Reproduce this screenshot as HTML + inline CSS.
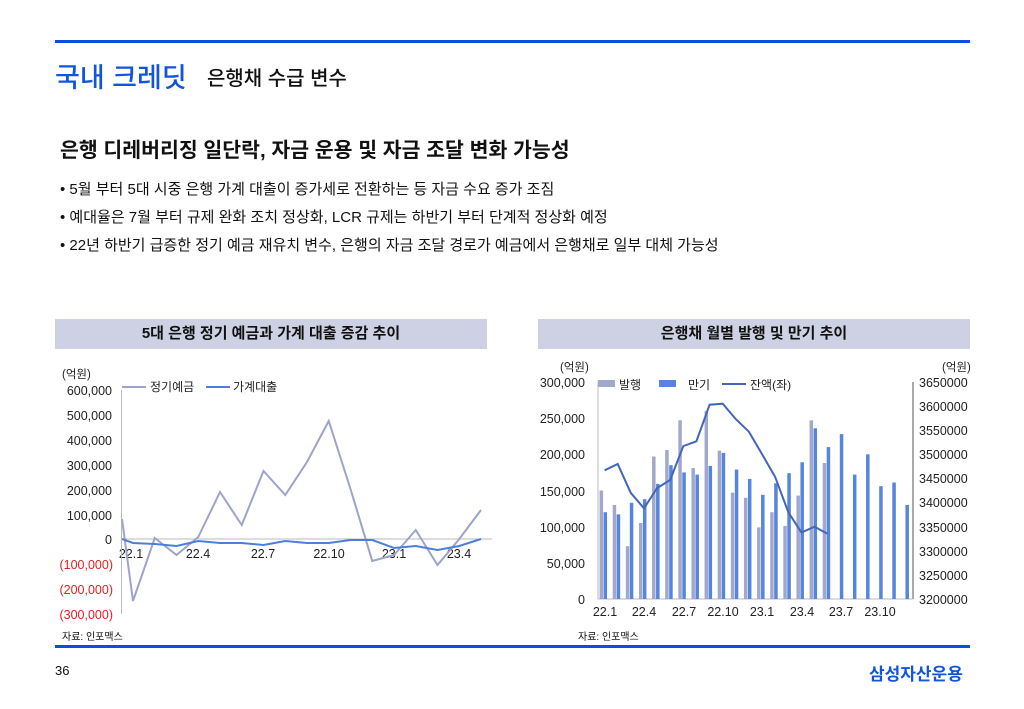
<!DOCTYPE html>
<html><head><meta charset="utf-8">
<style>
body{margin:0;width:1024px;height:709px;background:#fff;font-family:"Liberation Sans","Noto Sans CJK KR",sans-serif;position:relative;overflow:hidden}
.a{position:absolute;white-space:nowrap}
</style></head><body>
<div class="a" style="left:55px;top:40px;width:915px;height:3px;background:#0a4fe0"></div>
<div class="a" style="left:55px;top:56px;font-size:27px;color:#1155dd;font-weight:500">국내 크레딧</div>
<div class="a" style="left:207px;top:62px;font-size:20px;color:#111;font-weight:500">은행채 수급 변수</div>
<div class="a" style="left:60px;top:133px;font-size:20.5px;color:#111;font-weight:bold">은행 디레버리징 일단락, 자금 운용 및 자금 조달 변화 가능성</div>
<div class="a" style="left:60px;top:176px;font-size:15px;color:#111;line-height:28px">• 5월 부터 5대 시중 은행 가계 대출이 증가세로 전환하는 등 자금 수요 증가 조짐<br>• 예대율은 7월 부터 규제 완화 조치 정상화, LCR 규제는 하반기 부터 단계적 정상화 예정<br>• 22년 하반기 급증한 정기 예금 재유치 변수, 은행의 자금 조달 경로가 예금에서 은행채로 일부 대체 가능성</div>
<div class="a" style="left:55px;top:319px;width:432px;height:30px;background:#cdd1e3;text-align:center;line-height:30px;font-size:15px;font-weight:bold;color:#111">5대 은행 정기 예금과 가계 대출 증감 추이</div>
<div class="a" style="left:538px;top:319px;width:432px;height:30px;background:#cdd1e3;text-align:center;line-height:30px;font-size:15px;font-weight:bold;color:#111">은행채 월별 발행 및 만기 추이</div>
<div class="a" style="left:55px;top:645px;width:915px;height:3px;background:#0a4fe0"></div>
<div class="a" style="left:55px;top:663px;font-size:13px;color:#111">36</div>
<div class="a" style="left:869px;top:660px;font-size:17px;color:#1155dd;font-weight:bold">삼성자산운용</div>
<div class="a" style="left:62px;top:628px;font-size:10px;color:#111">자료: 인포맥스</div>
<div class="a" style="left:578px;top:628px;font-size:10px;color:#111">자료: 인포맥스</div>

<svg class="a" style="left:0;top:0" width="1024" height="709" font-family="Liberation Sans, Noto Sans CJK KR, sans-serif" font-size="12.5">
<g fill="#222">
<text x="62" y="378" font-size="11.5">(억원)</text>
<g text-anchor="end">
<text x="112" y="395">600,000</text><text x="112" y="420">500,000</text><text x="112" y="445">400,000</text><text x="112" y="470">300,000</text><text x="112" y="495">200,000</text><text x="112" y="520">100,000</text><text x="112" y="544">0</text>
<text x="113" y="569" fill="#e02020">(100,000)</text><text x="113" y="594" fill="#e02020">(200,000)</text><text x="113" y="619" fill="#e02020">(300,000)</text>
</g>
<g text-anchor="middle"><text x="131" y="558">22.1</text><text x="198" y="558">22.4</text><text x="263" y="558">22.7</text><text x="329" y="558">22.10</text><text x="394" y="558">23.1</text><text x="459" y="558">23.4</text></g>
</g>
<line x1="121.5" y1="390" x2="121.5" y2="614" stroke="#bbb"/>
<line x1="122" y1="539" x2="492" y2="539" stroke="#bbb"/>
<line x1="122" y1="387" x2="146" y2="387" stroke="#9ea3cc" stroke-width="2"/><text x="150" y="391" fill="#222" font-size="12">정기예금</text>
<line x1="206" y1="387" x2="230" y2="387" stroke="#4d7fd9" stroke-width="2"/><text x="233" y="391" fill="#222" font-size="12">가계대출</text>
<polyline fill="none" stroke="#9ea3cc" stroke-width="2" points="122,519 133,601 154.75,538 176.5,555 198.25,537 220,492 241.75,525 263.5,471 285.25,495 307,462 328.75,421 350.5,489 372.25,561 394,555 415.75,530 437.5,565 459.25,539 481,510"/>
<polyline fill="none" stroke="#4d7fd9" stroke-width="2" points="122,539 133,543 154.75,544 176.5,546 198.25,541 220,543 241.75,543 263.5,545 285.25,541 307,543 328.75,543 350.5,540 372.25,540 394,548 415.75,546 437.5,550 459.25,546 481,539"/>

<g fill="#222">
<text x="560" y="371" font-size="11.5">(억원)</text><text x="942" y="371" font-size="11.5">(억원)</text>
<g text-anchor="end">
<text x="585" y="387">300,000</text><text x="585" y="423">250,000</text><text x="585" y="459">200,000</text><text x="585" y="496">150,000</text><text x="585" y="532">100,000</text><text x="585" y="568">50,000</text><text x="585" y="604">0</text>
</g>
<g>
<text x="919" y="387">3650000</text><text x="919" y="411">3600000</text><text x="919" y="435">3550000</text><text x="919" y="459">3500000</text><text x="919" y="483">3450000</text><text x="919" y="507">3400000</text><text x="919" y="532">3350000</text><text x="919" y="556">3300000</text><text x="919" y="580">3250000</text><text x="919" y="604">3200000</text>
</g>
<g text-anchor="middle"><text x="605" y="616">22.1</text><text x="644" y="616">22.4</text><text x="684" y="616">22.7</text><text x="723" y="616">22.10</text><text x="762" y="616">23.1</text><text x="802" y="616">23.4</text><text x="841" y="616">23.7</text><text x="880" y="616">23.10</text></g>
</g>
<line x1="598" y1="382" x2="598" y2="599" stroke="#bbb"/>
<line x1="913" y1="382" x2="913" y2="599" stroke="#555"/>
<line x1="598" y1="599" x2="913" y2="599" stroke="#bbb"/>
<g id="bars"></g>
<polyline fill="none" stroke="#4466b8" stroke-width="2" points="604.6,470.3 617.7,464 630.8,492.9 644,508.3 657.1,488.1 670.2,479.9 683.3,446.1 696.4,441.3 709.6,404.7 722.7,403.7 735.8,419.1 748.9,431.7 762.1,454.3 775.2,477 788.3,512.2 801.4,532.5 814.5,526.7 827.7,533.9"/>
<rect x="598" y="380" width="17" height="7" fill="#a2a8cc"/><text x="619" y="389" fill="#222" font-size="12">발행</text>
<rect x="659" y="380" width="17" height="7" fill="#5585dd"/><text x="688" y="389" fill="#222" font-size="12">만기</text>
<line x1="722" y1="384" x2="746" y2="384" stroke="#4466b8" stroke-width="2"/><text x="750" y="389" fill="#222" font-size="12">잔액(좌)</text>
</svg>
<script>
var iss=[150,130,73,105,197,206,247,181,260,205,147,140,99,120,101,143,247,188];
var mat=[120,117,133,138,159,185,175,172,184,202,179,166,144,160,174,189,236,210,228,172,200,156,161,130];
var s="";
for(var i=0;i<24;i++){var cx=598+13.125*(i+0.5);
if(i<iss.length){var h=iss[i]*0.7233;s+='<rect x="'+(cx-5)+'" y="'+(599-h)+'" width="3.5" height="'+h+'" fill="#a2a8cc"/>';}
var h2=mat[i]*0.7233;s+='<rect x="'+(cx-1)+'" y="'+(599-h2)+'" width="3.5" height="'+h2+'" fill="#5585dd"/>';}
document.getElementById("bars").innerHTML=s;
</script>
</body></html>
